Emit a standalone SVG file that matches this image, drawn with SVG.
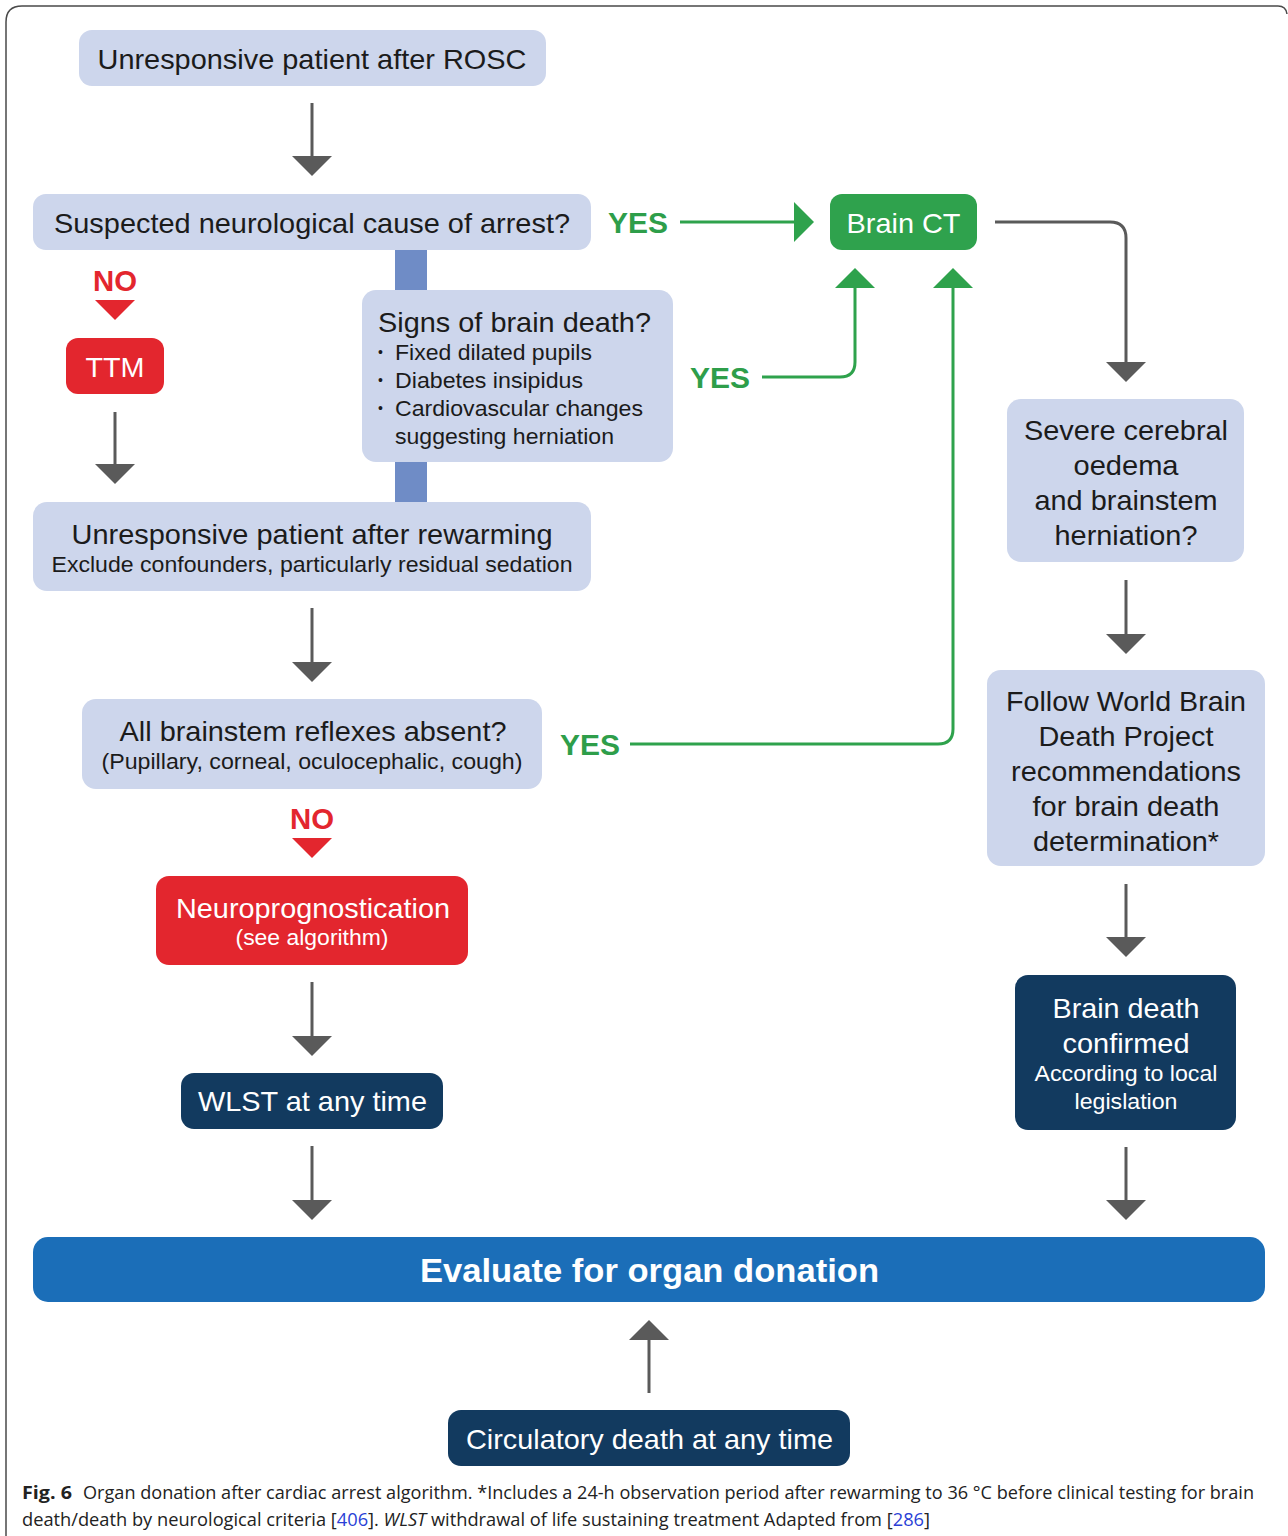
<svg xmlns="http://www.w3.org/2000/svg" width="1288" height="1536" viewBox="0 0 1288 1536">
<style>
.lb{fill:#cdd6ec}
.red{fill:#e3262e}
.grn{fill:#2fa24d}
.navy{fill:#123a5f}
.t{font-family:"Liberation Sans",Arial,sans-serif;font-size:28px;fill:#1b1b1b}
.s{font-family:"Liberation Sans",Arial,sans-serif;font-size:22px;fill:#1b1b1b}
.b{font-family:"Liberation Sans",Arial,sans-serif;font-size:14px;fill:#1b1b1b}
.w{fill:#ffffff}
.yes{font-family:"Liberation Sans",Arial,sans-serif;font-size:30px;font-weight:bold;fill:#2e9e4a}
.no{font-family:"Liberation Sans",Arial,sans-serif;font-size:30px;font-weight:bold;fill:#e3262e}
.gl{fill:none;stroke:#5a5a5a;stroke-width:3}
.gr{fill:none;stroke:#2ea24c;stroke-width:3}
.cap{font-family:"Open Sans","Liberation Sans",sans-serif;font-size:18px;fill:#222}
.ref{fill:#2a3fd6}
</style>
<defs>
<marker id="ag" viewBox="0 0 20 40" refX="0" refY="20" markerWidth="20" markerHeight="40" markerUnits="userSpaceOnUse" orient="auto"><path d="M0,0 L20,20 L0,40 z" fill="#5a5a5a"/></marker>
<marker id="agr" viewBox="0 0 20 40" refX="0" refY="20" markerWidth="20" markerHeight="40" markerUnits="userSpaceOnUse" orient="auto"><path d="M0,0 L20,20 L0,40 z" fill="#2ea24c"/></marker>
</defs>
<rect width="1288" height="1536" fill="#ffffff"/>
<path d="M6,1536 V22 Q6,6 22,6 H1278 Q1286,6 1287,14" fill="none" stroke="#4a4a4a" stroke-width="1.5"/>

<g id="connectors">
<rect x="395" y="250" width="32" height="40" fill="#6f8cc6"/>
<rect x="395" y="462" width="32" height="40" fill="#6f8cc6"/>
<path class="gl" d="M312,103 V156" marker-end="url(#ag)"/>
<path class="gl" d="M115,412 V464" marker-end="url(#ag)"/>
<path class="gl" d="M312,608 V662" marker-end="url(#ag)"/>
<path class="gl" d="M312,982 V1036" marker-end="url(#ag)"/>
<path class="gl" d="M312,1146 V1200" marker-end="url(#ag)"/>
<path class="gl" d="M649,1393 V1340" marker-end="url(#ag)"/>
<path class="gl" d="M995,222 H1110 Q1126,222 1126,238 V362" marker-end="url(#ag)"/>
<path class="gl" d="M1126,580 V634" marker-end="url(#ag)"/>
<path class="gl" d="M1126,884 V937" marker-end="url(#ag)"/>
<path class="gl" d="M1126,1147 V1200" marker-end="url(#ag)"/>
<path class="gr" d="M680,222 H794" marker-end="url(#agr)"/>
<path class="gr" d="M762,377 H840 Q855,377 855,362 V288" marker-end="url(#agr)"/>
<path class="gr" d="M630,744 H938 Q953,744 953,729 V288" marker-end="url(#agr)"/>
<text class="yes" x="638" y="233" text-anchor="middle" textLength="60" lengthAdjust="spacingAndGlyphs">YES</text>
<text class="yes" x="720" y="388" text-anchor="middle" textLength="60" lengthAdjust="spacingAndGlyphs">YES</text>
<text class="yes" x="590" y="755" text-anchor="middle" textLength="60" lengthAdjust="spacingAndGlyphs">YES</text>
<text class="no" x="115" y="291" text-anchor="middle" textLength="44" lengthAdjust="spacingAndGlyphs">NO</text>
<polygon class="red" points="95,300 135,300 115,320"/>
<text class="no" x="312" y="829" text-anchor="middle" textLength="44" lengthAdjust="spacingAndGlyphs">NO</text>
<polygon class="red" points="292,838 332,838 312,858"/>
</g>

<g id="rosc">
<rect class="lb" x="79" y="30" width="467" height="56" rx="13"/>
<text class="t" x="312" y="69" text-anchor="middle" textLength="429" lengthAdjust="spacingAndGlyphs">Unresponsive patient after ROSC</text>
</g>
<g id="suspected">
<rect class="lb" x="33" y="194" width="558" height="56" rx="13"/>
<text class="t" x="312" y="233" text-anchor="middle" textLength="516" lengthAdjust="spacingAndGlyphs">Suspected neurological cause of arrest?</text>
</g>
<g id="brainct">
<rect class="grn" x="830" y="194" width="147" height="56" rx="12"/>
<text class="t w" x="903.5" y="233" text-anchor="middle" textLength="114" lengthAdjust="spacingAndGlyphs">Brain CT</text>
</g>
<g id="signs">
<rect class="lb" x="362" y="290" width="311" height="172" rx="14"/>
<text class="t" x="378" y="332" textLength="273" lengthAdjust="spacingAndGlyphs">Signs of brain death?</text>
<text class="b" x="378" y="357">•</text><text class="s" x="395" y="360" textLength="197" lengthAdjust="spacingAndGlyphs">Fixed dilated pupils</text>
<text class="b" x="378" y="385">•</text><text class="s" x="395" y="388" textLength="188" lengthAdjust="spacingAndGlyphs">Diabetes insipidus</text>
<text class="b" x="378" y="413">•</text><text class="s" x="395" y="416" textLength="248" lengthAdjust="spacingAndGlyphs">Cardiovascular changes</text>
<text class="s" x="395" y="444" textLength="219" lengthAdjust="spacingAndGlyphs">suggesting herniation</text>
</g>
<g id="ttm">
<rect class="red" x="66" y="338" width="98" height="56" rx="12"/>
<text class="t w" x="115" y="377" text-anchor="middle" textLength="59" lengthAdjust="spacingAndGlyphs">TTM</text>
</g>
<g id="rewarming">
<rect class="lb" x="33" y="502" width="558" height="89" rx="14"/>
<text class="t" x="312" y="544" text-anchor="middle" textLength="481" lengthAdjust="spacingAndGlyphs">Unresponsive patient after rewarming</text>
<text class="s" x="312" y="572" text-anchor="middle" textLength="521" lengthAdjust="spacingAndGlyphs">Exclude confounders, particularly residual sedation</text>
</g>
<g id="reflexes">
<rect class="lb" x="82" y="699" width="460" height="90" rx="14"/>
<text class="t" x="313" y="741" text-anchor="middle" textLength="387" lengthAdjust="spacingAndGlyphs">All brainstem reflexes absent?</text>
<text class="s" x="312" y="769" text-anchor="middle" textLength="421" lengthAdjust="spacingAndGlyphs">(Pupillary, corneal, oculocephalic, cough)</text>
</g>
<g id="neuro">
<rect class="red" x="156" y="876" width="312" height="89" rx="13"/>
<text class="t w" x="313" y="918" text-anchor="middle" textLength="274" lengthAdjust="spacingAndGlyphs">Neuroprognostication</text>
<text class="s w" x="312" y="945" text-anchor="middle" textLength="153" lengthAdjust="spacingAndGlyphs">(see algorithm)</text>
</g>
<g id="wlst">
<rect class="navy" x="181" y="1073" width="262" height="56" rx="13"/>
<text class="t w" x="312.5" y="1111" text-anchor="middle" textLength="229" lengthAdjust="spacingAndGlyphs">WLST at any time</text>
</g>
<g id="oedema">
<rect class="lb" x="1007" y="399" width="237" height="163" rx="14"/>
<text class="t" x="1126" y="440" text-anchor="middle" textLength="204" lengthAdjust="spacingAndGlyphs">Severe cerebral</text>
<text class="t" x="1126" y="475" text-anchor="middle" textLength="105" lengthAdjust="spacingAndGlyphs">oedema</text>
<text class="t" x="1126" y="510" text-anchor="middle" textLength="183" lengthAdjust="spacingAndGlyphs">and brainstem</text>
<text class="t" x="1126" y="545" text-anchor="middle" textLength="143" lengthAdjust="spacingAndGlyphs">herniation?</text>
</g>
<g id="wbdp">
<rect class="lb" x="987" y="670" width="278" height="196" rx="14"/>
<text class="t" x="1126" y="711" text-anchor="middle" textLength="240" lengthAdjust="spacingAndGlyphs">Follow World Brain</text>
<text class="t" x="1126" y="746" text-anchor="middle" textLength="175" lengthAdjust="spacingAndGlyphs">Death Project</text>
<text class="t" x="1126" y="781" text-anchor="middle" textLength="230" lengthAdjust="spacingAndGlyphs">recommendations</text>
<text class="t" x="1126" y="816" text-anchor="middle" textLength="187" lengthAdjust="spacingAndGlyphs">for brain death</text>
<text class="t" x="1126" y="851" text-anchor="middle" textLength="186" lengthAdjust="spacingAndGlyphs">determination*</text>
</g>
<g id="confirmed">
<rect class="navy" x="1015" y="975" width="221" height="155" rx="13"/>
<text class="t w" x="1126" y="1018" text-anchor="middle" textLength="147" lengthAdjust="spacingAndGlyphs">Brain death</text>
<text class="t w" x="1126" y="1053" text-anchor="middle" textLength="127" lengthAdjust="spacingAndGlyphs">confirmed</text>
<text class="s w" x="1126" y="1081" text-anchor="middle" textLength="183" lengthAdjust="spacingAndGlyphs">According to local</text>
<text class="s w" x="1126" y="1109" text-anchor="middle" textLength="103" lengthAdjust="spacingAndGlyphs">legislation</text>
</g>
<g id="evaluate">
<rect x="33" y="1237" width="1232" height="65" rx="15" fill="#1b6eb8"/>
<text x="649.5" y="1282" text-anchor="middle" font-family="Liberation Sans,Arial,sans-serif" font-size="34" font-weight="bold" fill="#ffffff" textLength="459" lengthAdjust="spacingAndGlyphs">Evaluate for organ donation</text>
</g>
<g id="circulatory">
<rect class="navy" x="448" y="1410" width="402" height="56" rx="13"/>
<text class="t w" x="649.5" y="1449" text-anchor="middle" textLength="367" lengthAdjust="spacingAndGlyphs">Circulatory death at any time</text>
</g>
<g id="caption">
<text class="cap" x="22" y="1499" font-weight="bold" textLength="50" lengthAdjust="spacingAndGlyphs">Fig. 6</text>
<text class="cap" x="83" y="1499" textLength="1171" lengthAdjust="spacingAndGlyphs">Organ donation after cardiac arrest algorithm. *Includes a 24-h observation period after rewarming to 36 °C before clinical testing for brain</text>
<text class="cap" x="22" y="1526" textLength="908" lengthAdjust="spacingAndGlyphs">death/death by neurological criteria [<tspan class="ref">406</tspan>]. <tspan font-style="italic">WLST</tspan> withdrawal of life sustaining treatment Adapted from [<tspan class="ref">286</tspan>]</text>
</g>
</svg>
